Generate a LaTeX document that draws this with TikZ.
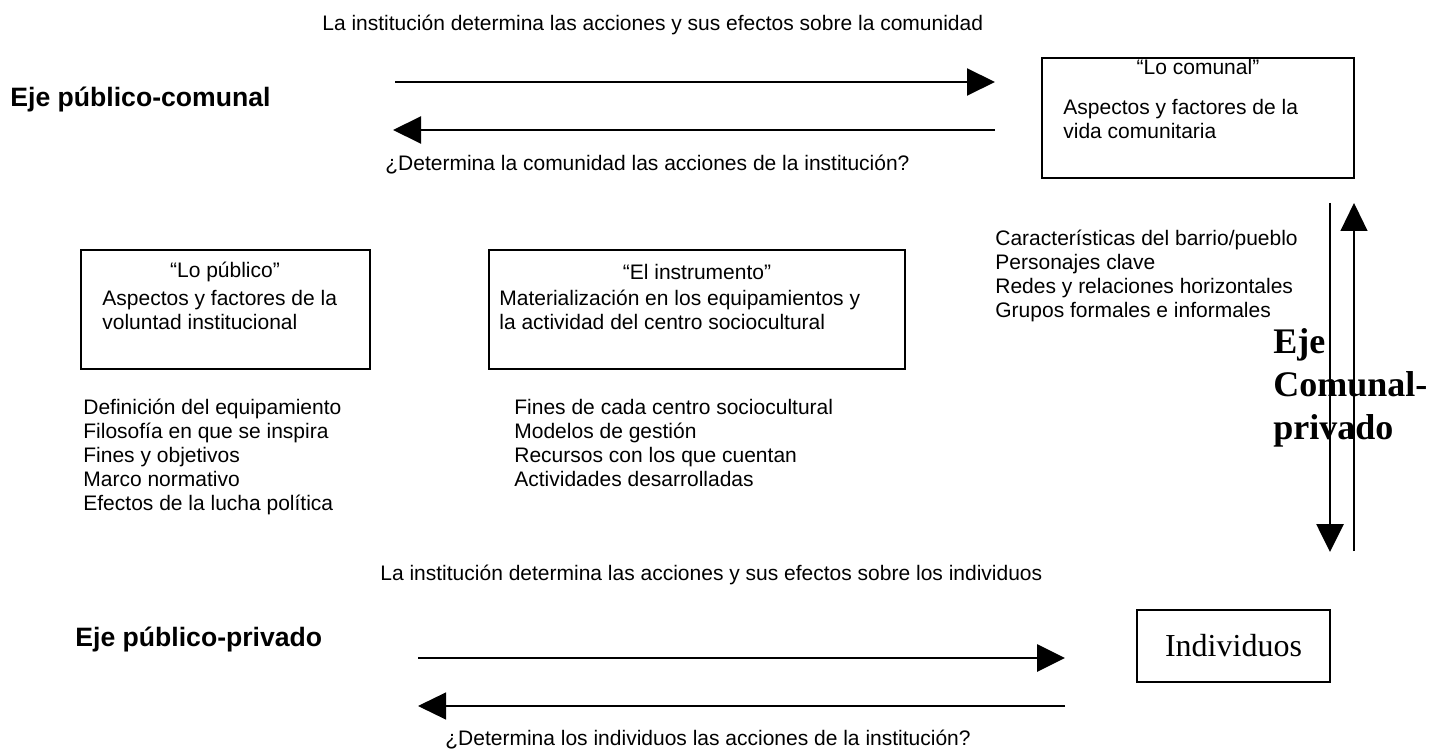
\documentclass[tikz,border=0pt]{standalone}
\usepackage{fontspec}
\setmainfont{Liberation Sans}
\newfontfamily\romanfont{Liberation Serif}
\usepackage{tikz}
\usetikzlibrary{arrows.meta,positioning}
\tikzset{
  frame/.style={draw=black, line width=1pt, inner sep=0pt},
  lbl/.style={font=\fontsize{10.5}{12}\selectfont, inner sep=0pt},
  lst/.style={lbl, align=left, anchor=north west},
  axis/.style={font=\bfseries\fontsize{13.3}{16}\selectfont, inner sep=0pt, anchor=west},
  bigaxis/.style={lst, font=\romanfont\bfseries\fontsize{18}{21.5}\selectfont},
  arr/.style={-{Triangle[length=14pt,width=13.5pt]}, draw=black, line width=1pt},
  thinarr/.style={arr, line width=0.6pt},
  thickarr/.style={arr, line width=1.4pt}
}
\begin{document}
\begin{tikzpicture}[x=0.5pt, y=-0.5pt]
  \useasboundingbox (0,0) rectangle (1447,754);
  % eje publico-comunal
  \node[axis] (pcomunal) at (10,100) {Eje público-comunal};
  \node[lbl, anchor=west] (pcdown) at (322,25)
    {La institución determina las acciones y sus efectos sobre la comunidad};
  \node[lbl, anchor=west] (pcup) at (385,165)
    {¿Determina la comunidad las acciones de la institución?};
  \coordinate (pca) at (395,82);
  \coordinate (pcb) at (995,82);
  \coordinate (pcc) at (995,130);
  \coordinate (pcd) at (393,130);
  \draw[arr] (pca) -- (pcb);
  \draw[arr] (pcc) -- (pcd);
  % lo comunal
  \node[frame, minimum width=156pt, minimum height=60pt] (comunal) at (1198,118) {};
  \node[lbl] (comtitle) at (1198,67) {“Lo comunal”};
  \node[lst] (comtxt) at (1063,99) {Aspectos y factores de la\\vida comunitaria};
  \node[lst] (comlist) at (995,230)
    {Características del barrio/pueblo\\Personajes clave\\Redes y relaciones horizontales\\Grupos formales e informales};
  % eje comunal-privado
  \node[bigaxis] (cprivado) at (1273,328) {Eje\\Comunal-\\privado};
  \coordinate (cpa) at (1330,203);
  \coordinate (cpb) at (1330,552);
  \coordinate (cpc) at (1354,551);
  \coordinate (cpd) at (1354,203);
  \draw[thickarr] (cpa) -- (cpb);
  \draw[thinarr] (cpc) -- (cpd);
  % lo publico
  \node[frame, minimum width=144.5pt, minimum height=59.5pt] (publico) at (225.5,309.5) {};
  \node[lbl] (pubtitle) at (225,272) {“Lo público”};
  \node[lst] (pubtxt) at (102,290) {Aspectos y factores de la\\voluntad institucional};
  \node[lst] (publist) at (83,399)
    {Definición del equipamiento\\Filosofía en que se inspira\\Fines y objetivos\\Marco normativo\\Efectos de la lucha política};
  % el instrumento
  \node[frame, minimum width=208pt, minimum height=59.5pt] (instr) at (697,309.5) {};
  \node[lbl] (institle) at (697,272) {“El instrumento”};
  \node[lst] (instxt) at (499,290)
    {Materialización en los equipamientos y\\la actividad del centro sociocultural};
  \node[lst] (inslist) at (514,399)
    {Fines de cada centro sociocultural\\Modelos de gestión\\Recursos con los que cuentan\\Actividades desarrolladas};
  % eje publico-privado
  \node[axis] (pprivado) at (75,640) {Eje público-privado};
  \node[lbl, anchor=west] (ppdown) at (380,575)
    {La institución determina las acciones y sus efectos sobre los individuos};
  \node[lbl, anchor=west] (ppup) at (445,740)
    {¿Determina los individuos las acciones de la institución?};
  \node[frame, minimum width=96.5pt, minimum height=36pt, font=\romanfont\fontsize{16}{19}\selectfont]
    (indiv) at (1233.5,646) {Individuos};
  \coordinate (ppa) at (418,658);
  \coordinate (ppb) at (1065,658);
  \coordinate (ppc) at (1065,706);
  \coordinate (ppd) at (418,706);
  \draw[thickarr] (ppa) -- (ppb);
  \draw[thinarr] (ppc) -- (ppd);
\end{tikzpicture}
\end{document}
